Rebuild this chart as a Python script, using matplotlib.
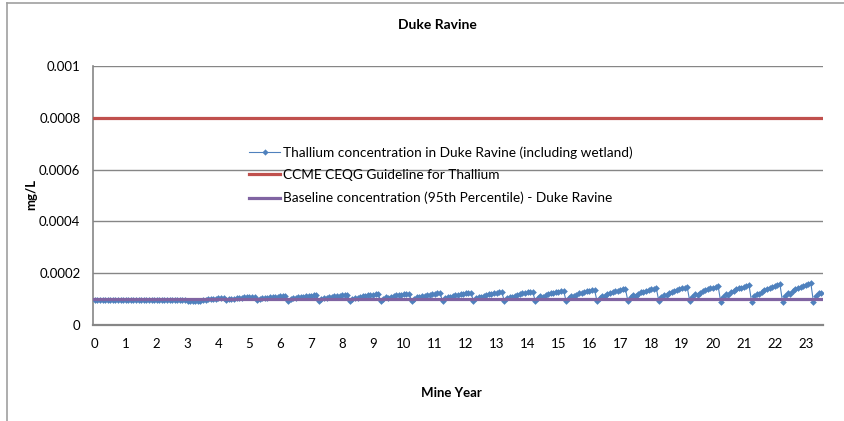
import matplotlib
matplotlib.use('Agg')
import matplotlib.pyplot as plt
from matplotlib.lines import Line2D
import numpy as np

plt.rcParams['font.family'] = ['Lato', 'DejaVu Sans']

# thallium concentration, monthly readings, in 1e-6 mg/L (one row per mine year)
thallium_by_year = [
    [96, 96, 96, 96, 96, 96, 96, 96, 96, 96, 96, 96],
    [96, 96, 96, 96, 96, 96, 96, 96, 96, 96, 96, 96],
    [96, 96, 96, 96, 96, 96, 96, 96, 95, 95, 95, 95],
    [94, 93, 93, 92, 92, 93, 95, 97, 99, 100, 101, 102],
    [103, 104, 105, 95, 99.5, 102, 101.6, 103.7, 105.2, 106, 107, 108],
    [108.7, 109.4, 110, 95, 100, 103, 102.5, 105, 106.5, 108, 109, 109.5],
    [110.5, 111.3, 112, 94, 100.3, 103.9, 103.2, 106.2, 108.3, 109.8, 111, 112],
    [113.1, 114.2, 115, 94, 100.9, 104.8, 104.1, 107.3, 109.6, 111.3, 112.6, 113.8],
    [114.9, 116.1, 117, 94, 101.5, 105.8, 105, 108.5, 111, 112.8, 114.3, 115.5],
    [116.8, 118, 119, 93, 101.4, 106.2, 105.3, 109.2, 112, 114, 115.7, 117.1],
    [118.5, 119.9, 121, 93, 102, 107.1, 106.2, 110.4, 113.4, 115.5, 117.3, 118.8],
    [120.3, 121.8, 123, 93, 102.6, 108, 107.1, 111.6, 114.8, 117, 118.9, 120.5],
    [122.1, 123.7, 125, 93, 103.2, 109, 108, 112.7, 116.1, 118.5, 120.5, 122.2],
    [124, 125.6, 127, 92, 103.1, 109.4, 108.3, 113.5, 117.2, 119.8, 122, 123.8],
    [125.7, 127.5, 129, 92, 104, 110.8, 109.6, 115.2, 119.2, 122, 124.4, 126.4],
    [128.4, 130.4, 132, 92, 105.2, 112.7, 111.4, 117.5, 121.9, 125, 127.6, 129.8],
    [132, 134.2, 136, 91, 105.4, 113.6, 112.1, 118.8, 123.6, 127, 129.9, 132.3],
    [134.7, 137.1, 139, 91, 106.3, 115, 113.4, 120.6, 125.7, 129.3, 132.3, 134.9],
    [137.4, 140, 142, 91, 107.5, 116.9, 115.2, 122.9, 128.4, 132.3, 135.6, 138.3],
    [141, 143.8, 146, 91, 108.7, 118.7, 117, 125.2, 131.1, 135.3, 138.8, 141.7],
    [144.7, 147.6, 150, 90, 108.9, 119.6, 117.7, 126.5, 132.8, 137.3, 141, 144.2],
    [147.3, 150.5, 153, 90, 110.1, 121.5, 119.5, 128.9, 135.6, 140.3, 144.3, 147.6],
    [151, 154.3, 157, 90, 111.3, 123.4, 121.2, 131.2, 138.3, 143.3, 147.5, 151.1],
    [154.6, 158.2, 161, 90, 111, 123, 124],
]
ccme_guideline = 0.0008
baseline_95th = 0.0001
year_labels = [str(i) for i in range(24)]
y_ticks = [0, 0.0002, 0.0004, 0.0006, 0.0008, 0.001]
y_labels = ['0', '0.0002', '0.0004', '0.0006', '0.0008', '0.001']

conc = np.concatenate([np.array(r, dtype=float) for r in thallium_by_year]) * 1e-6
years = np.arange(len(conc)) / 12.0

blue = '#4F81BD'
red = '#C0504D'
purple = '#8064A2'
grey = '#868686'

fig = plt.figure(figsize=(8.45, 4.21), dpi=100)
ax = fig.add_axes([93/845, 1 - 325/421, (823 - 93)/845, (325 - 66)/421])

xmin, xmax = -0.06, 23.56
ax.plot(years, conc, color=blue, lw=0.8, marker='D', ms=3.4, mew=0, zorder=3)
ax.plot([xmin, xmax], [ccme_guideline, ccme_guideline], color=red, lw=2.3, zorder=4)
ax.plot([xmin, xmax], [baseline_95th, baseline_95th], color=purple, lw=2.3, zorder=4)

ax.set_xlim(xmin, xmax)
ax.set_ylim(0, 0.001)
ax.set_yticks(y_ticks)
ax.set_yticklabels(y_labels)
ax.set_xticks(range(len(year_labels)))
ax.set_xticklabels(year_labels)
ax.tick_params(axis='both', length=0, labelsize=9.5, colors='black')
ax.tick_params(axis='y', pad=9)
ax.tick_params(axis='x', pad=9)
ax.yaxis.grid(True, color=grey, lw=1)
ax.set_axisbelow(True)
for s in ['top', 'right']:
    ax.spines[s].set_visible(False)
ax.spines['left'].set_color(grey)
ax.spines['bottom'].set_color(grey)
ax.spines['left'].set_linewidth(1.2)
ax.spines['bottom'].set_linewidth(1.6)

fig.text(437/845, 1 - 25/421, 'Duke Ravine', ha='center', va='center',
         fontsize=10, fontweight='bold')
fig.text(451/845, 1 - 393/421, 'Mine Year', ha='center', va='center',
         fontsize=9.5, fontweight='bold')
fig.text(31/845, 1 - 195/421, 'mg/L', ha='center', va='center',
         fontsize=9.5, fontweight='bold', rotation=90)

handles = [
    Line2D([], [], color=blue, lw=0.8, marker='D', ms=3.2, mew=0),
    Line2D([], [], color=red, lw=2.3),
    Line2D([], [], color=purple, lw=2.3),
]
labels = [
    'Thallium concentration in Duke Ravine (including wetland)',
    'CCME CEQG Guideline for Thallium',
    'Baseline concentration (95th Percentile) - Duke Ravine',
]
fig.legend(handles, labels, loc='upper left', bbox_to_anchor=(249/845, 1 - 146/421),
           frameon=False, fontsize=9.8, handlelength=2.3, handletextpad=0.2,
           labelspacing=0.78, borderaxespad=0, borderpad=0)

# chart area border (cropped at right/bottom)
fig.add_artist(Line2D([7/845, 7/845], [0, 1 - 3/421], color='#A0A0A0', lw=1.2,
                      transform=fig.transFigure))
fig.add_artist(Line2D([7/845, 1], [1 - 3/421, 1 - 3/421], color='#A0A0A0', lw=1.2,
                      transform=fig.transFigure))

fig.savefig('out.png', dpi=100)
